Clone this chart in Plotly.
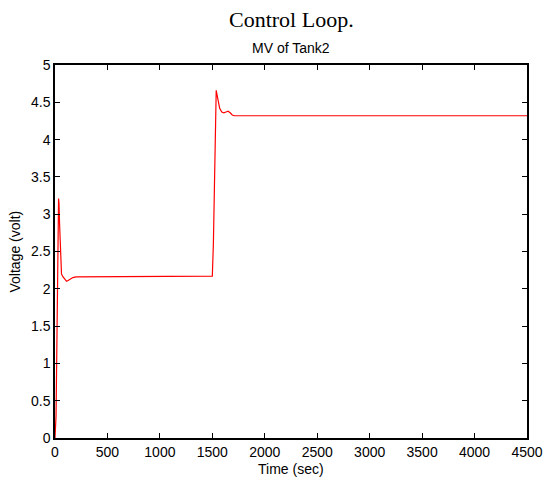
import plotly.graph_objects as go

time_s = [0, 5, 10, 15, 20, 25, 30, 34, 38, 44, 50, 56, 62, 72, 85, 100, 110, 125, 145, 170, 200,
          1480, 1490, 1500, 1510, 1520, 1530, 1537, 1545, 1555, 1570, 1590, 1610, 1630, 1650,
          1670, 1690, 1710, 1750, 2000, 3000, 4500]
voltage = [0.0, 0.1, 0.3, 0.9, 1.6, 2.3, 2.9, 3.21, 3.15, 2.85, 2.5, 2.26, 2.2, 2.17, 2.14, 2.11, 2.10, 2.11, 2.13, 2.15, 2.16,
           2.16, 2.16, 2.17, 2.6, 3.4, 4.2, 4.66, 4.6, 4.5, 4.42, 4.37, 4.36, 4.37, 4.38,
           4.36, 4.33, 4.32, 4.32, 4.32, 4.32, 4.32]

x_ticks = [0, 500, 1000, 1500, 2000, 2500, 3000, 3500, 4000, 4500]
y_ticks = [0, 0.5, 1, 1.5, 2, 2.5, 3, 3.5, 4, 4.5, 5]
y_tick_labels = ["0", "0.5", "1", "1.5", "2", "2.5", "3", "3.5", "4", "4.5", "5"]

SANS = "Liberation Sans, Arial"
SERIF = "Liberation Serif, Times New Roman"

fig = go.Figure()
fig.add_trace(go.Scatter(x=time_s, y=voltage, mode="lines",
                         line=dict(color="#ff0000", width=1.2), showlegend=False))

axis_common = dict(showline=True, linecolor="black", linewidth=1.5, mirror="ticks",
                   ticks="inside", ticklen=5, tickcolor="black", tickwidth=1,
                   showgrid=False, zeroline=False, automargin=False,
                   ticklabeloverflow="allow",
                   tickfont=dict(family=SANS, size=14, color="black"))

fig.update_xaxes(range=[0, 4500], tickvals=x_ticks, ticktext=[str(t) for t in x_ticks], **axis_common)
fig.update_yaxes(range=[0, 5], tickvals=y_ticks, ticktext=y_tick_labels, **axis_common)

fig.update_layout(
    width=537, height=471,
    margin=dict(l=47, r=18, t=57, b=41),
    paper_bgcolor="white", plot_bgcolor="white",
    annotations=[
        dict(text="Control Loop.", x=0.5, xref="paper", y=1, yref="paper", yshift=46,
             yanchor="middle", xanchor="center", showarrow=False,
             font=dict(family=SERIF, size=22, color="black")),
        dict(text="MV of Tank2", x=0.5, xref="paper", y=1, yref="paper", yshift=17,
             yanchor="middle", xanchor="center", showarrow=False,
             font=dict(family=SANS, size=14, color="black")),
        dict(text="Time (sec)", x=0.5, xref="paper", y=0, yref="paper", yshift=-31,
             yanchor="middle", xanchor="center", showarrow=False,
             font=dict(family=SANS, size=14, color="black")),
        dict(text="Voltage (volt)", x=0, xref="paper", y=0.5, yref="paper", xshift=-41,
             yanchor="middle", xanchor="center", textangle=-90, showarrow=False,
             font=dict(family=SANS, size=14, color="black")),
    ],
)

fig.write_html("out.html")
